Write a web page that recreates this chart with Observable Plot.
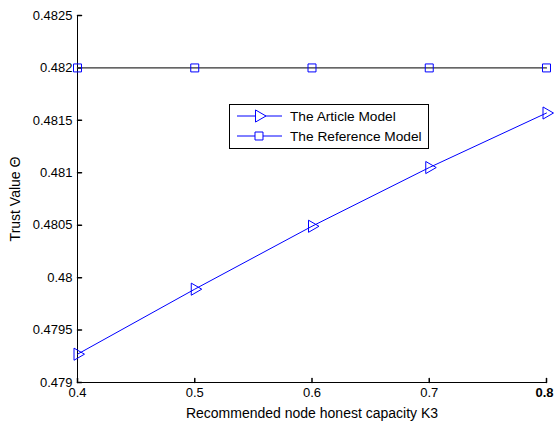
<!DOCTYPE html>
<html>
<head>
<meta charset="utf-8">
<script src="https://cdn.jsdelivr.net/npm/d3@7"></script>
<script src="https://cdn.jsdelivr.net/npm/@observablehq/plot@0.6"></script>
<style>
  html, body { margin: 0; padding: 0; background: #fff; }
  #chart { width: 554px; height: 422px; overflow: hidden; }
</style>
</head>
<body>
<div id="chart"></div>
<script>
const capacity = [0.4, 0.5, 0.6, 0.7, 0.8];
const articleModel = [0.47927, 0.47989, 0.48049, 0.48105, 0.48157];
const referenceModel = [0.482, 0.482, 0.482, 0.482, 0.482];
const seriesNames = ["The Article Model", "The Reference Model"];
const xTicks = [0.4, 0.5, 0.6, 0.7, 0.8];
const yTicks = [0.479, 0.4795, 0.48, 0.4805, 0.481, 0.4815, 0.482, 0.4825];
const xLabel = "Recommended node honest capacity K3";
const yLabel = "Trust Value Θ";

const article = capacity.map((x, i) => ({x, y: articleModel[i]}));
const reference = capacity.map((x, i) => ({x, y: referenceModel[i]}));
const fmt = d => String(+d.toFixed(4));
const spike = {draw(ctx, l) { ctx.moveTo(0, 0); ctx.lineTo(0, -l); }};
const xMin = xTicks[0], yMin = yTicks[0];

const chart = Plot.plot({
  width: 554,
  height: 422,
  marginLeft: 77,
  marginRight: 8,
  marginTop: 15,
  marginBottom: 40,
  style: {fontFamily: "'Liberation Sans', Arial, sans-serif", fontSize: "13px", color: "#000", background: "#fff", overflow: "visible"},
  x: {domain: [0.4, 0.8]},
  y: {domain: [0.479, 0.4825]},
  marks: [
    Plot.ruleX([xMin], {stroke: "#000"}),
    Plot.ruleY([yMin], {stroke: "#000"}),
    Plot.axisX({ticks: xTicks.slice(0, -1), tickSize: 0, tickPadding: 5, tickFormat: fmt, label: null}),
    Plot.axisX({ticks: xTicks.slice(-1), tickSize: 0, tickPadding: 5, tickFormat: fmt, label: null, dx: -2, fontWeight: "bold"}),
    Plot.axisY({ticks: yTicks, tickSize: 0, tickPadding: 5, tickFormat: fmt, label: null}),
    Plot.axisX({ticks: [], label: xLabel, labelAnchor: "center", labelOffset: 35, labelArrow: "none", fontSize: 14}),
    Plot.axisY({ticks: [], label: yLabel, labelAnchor: "center", labelOffset: 67, labelArrow: "none", fontSize: 14}),
    Plot.vector(xTicks, {x: d => d, y: () => yMin, length: 4, anchor: "start", shape: spike, stroke: "#000"}),
    Plot.vector(yTicks, {x: () => xMin, y: d => d, length: 4, rotate: 90, anchor: "start", shape: spike, stroke: "#000"}),
    Plot.line(reference, {x: "x", y: "y", stroke: "#333", strokeWidth: 1.2}),
    Plot.dot(reference, {x: "x", y: "y", symbol: "square", r: 4.5, stroke: "#0000ff", fill: "none", strokeWidth: 1}),
    Plot.line(article, {x: "x", y: "y", stroke: "#0000ff", strokeWidth: 1}),
    Plot.dot(article, {x: "x", y: "y", symbol: "triangle", rotate: 90, r: 4.5, stroke: "#0000ff", fill: "none", strokeWidth: 1})
  ]
});

// Legend box
const svg = d3.select(chart);
const lg = svg.append("g")
  .attr("font-family", "'Liberation Sans', Arial, sans-serif")
  .attr("font-size", 13.7)
  .attr("text-anchor", "start");
lg.append("rect").attr("x", 229.5).attr("y", 104.5).attr("width", 199).attr("height", 44)
  .attr("fill", "#fff").attr("stroke", "#000").attr("stroke-width", 1);
const rows = [116, 136];
const tri = d3.symbol(d3.symbolTriangle, 4.5 * 4.5 * Math.PI)();
const sq = d3.symbol(d3.symbolSquare, 4.5 * 4.5 * Math.PI)();
seriesNames.forEach((name, i) => {
  const y = rows[i];
  lg.append("line").attr("x1", 237).attr("x2", 282).attr("y1", y).attr("y2", y).attr("stroke", "#0000ff");
  lg.append("path").attr("d", i === 0 ? tri : sq)
    .attr("transform", `translate(259,${y})` + (i === 0 ? " rotate(90)" : ""))
    .attr("fill", "#fff").attr("stroke", "#0000ff");
  lg.append("text").attr("x", 290).attr("y", y).attr("dy", "0.35em").attr("fill", "#000").text(name);
});

document.getElementById("chart").appendChild(chart);
</script>
</body>
</html>
